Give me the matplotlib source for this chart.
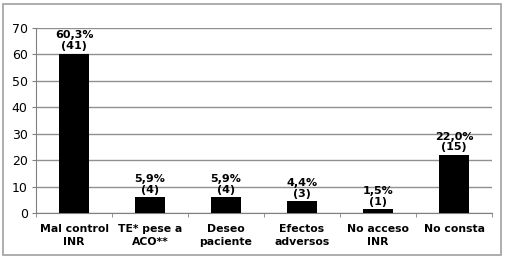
import matplotlib
matplotlib.use("Agg")
import matplotlib.pyplot as plt
from matplotlib.patches import Rectangle
import numpy as np

# Chart data
categories = ["Mal control\nINR", "TE* pese a\nACO**", "Deseo\npaciente",
              "Efectos\nadversos", "No acceso\nINR", "No consta"]
percent = [60.3, 5.9, 5.9, 4.4, 1.5, 22.0]
counts = [41, 4, 4, 3, 1, 15]
y_ticks = [0, 10, 20, 30, 40, 50, 60, 70]

plt.rcParams['font.family'] = ['DejaVu Sans']

fig = plt.figure(figsize=(5.08, 2.60), dpi=100)
ax = fig.add_axes([36 / 508, 1 - 213 / 260, 456 / 508, 185 / 260])

# outer frame of the chart
fig.patches.append(Rectangle((3 / 508, 5 / 260), 498 / 508, 251 / 260,
                             transform=fig.transFigure, fill=False,
                             edgecolor='#a0a0a0', linewidth=1.2))

x = np.arange(len(categories))
ax.bar(x, percent, width=0.4, color='black', zorder=3)

for xi, p, c in zip(x, percent, counts):
    label = f"{p:.1f}%".replace('.', ',') + f"\n({c})"
    ax.text(xi, p + 0.9, label, ha='center', va='bottom', fontsize=8,
            fontweight='bold', linespacing=1.1, zorder=4)

ax.set_xlim(-0.5, len(categories) - 0.5)
ax.set_ylim(0, 70)
ax.set_yticks(y_ticks)
ax.tick_params(axis='y', labelsize=9, length=3, color='#808080', pad=3)
ax.yaxis.grid(True, color='#909090', linewidth=1.0, zorder=0)

ax.set_xticks(x)
ax.set_xticklabels(categories, fontsize=7.8, fontweight='bold', linespacing=1.3)
ax.tick_params(axis='x', length=0, pad=8)
ax.set_xticks(np.arange(len(categories) + 1) - 0.5, minor=True)
ax.tick_params(axis='x', which='minor', length=3, color='#808080')

for side in ['top', 'right']:
    ax.spines[side].set_visible(False)
ax.spines['left'].set_color('#808080')
ax.spines['bottom'].set_color('#808080')

fig.savefig('out.png', dpi=100)
